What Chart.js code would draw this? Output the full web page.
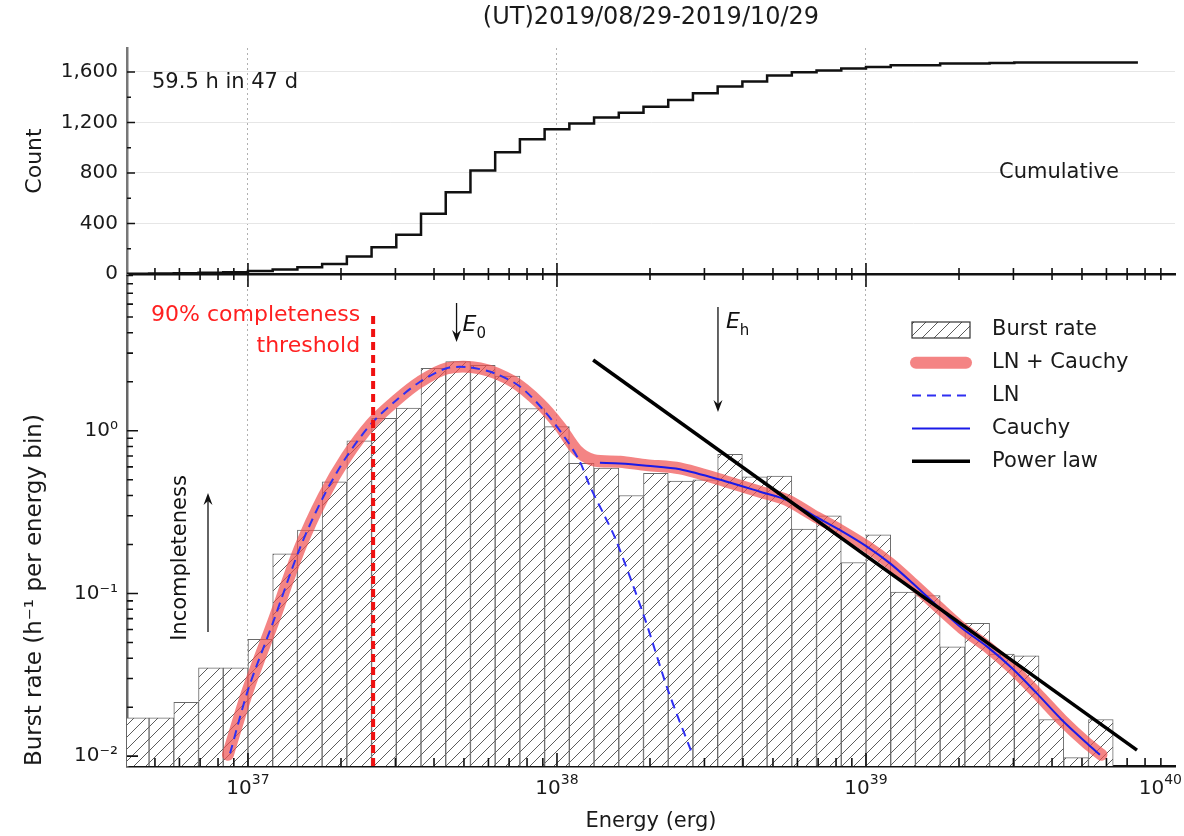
<!DOCTYPE html>
<html>
<head>
<meta charset="utf-8">
<script src="https://cdn.jsdelivr.net/npm/chart.js@4"></script>
<style>
  html, body { margin: 0; padding: 0; background: #fff; }
  #quadro { position: relative; width: 1184px; height: 836px; }
  canvas { position: absolute; left: 0; top: 0; }
</style>
</head>
<body>
<div id="quadro">
  <canvas id="graficoTaxa" width="1184" height="836"></canvas>
  <canvas id="graficoAcumulado" width="1184" height="836"></canvas>
</div>
<script>
const ctxTaxa = document.getElementById("graficoTaxa");
const ctxAcumulado = document.getElementById("graficoAcumulado");

const titulo = "(UT)2019/08/29-2019/10/29";
const rotuloExposicao = "59.5 h in 47 d";
const rotuloAcumulado = "Cumulative";

// bordas dos bins, em log10(E / erg)
const bordasBinsExp = [36.60, 36.68, 36.76, 36.84, 36.92, 37.00, 37.08, 37.16, 37.24, 37.32,
  37.40, 37.48, 37.56, 37.64, 37.72, 37.80, 37.88, 37.96, 38.04, 38.12,
  38.20, 38.28, 38.36, 38.44, 38.52, 38.60, 38.68, 38.76, 38.84, 38.92,
  39.00, 39.08, 39.16, 39.24, 39.32, 39.40, 39.48, 39.56, 39.64, 39.72,
  39.80, 39.88];

// taxa de surtos (h^-1 por bin)
const taxaSurtos = [0.0172, 0.0172, 0.0214, 0.0349, 0.0349, 0.0522, 0.175, 0.245, 0.486, 0.868,
  1.19, 1.38, 2.42, 2.66, 2.52, 2.17, 1.37, 1.06, 0.63, 0.59,
  0.40, 0.547, 0.49, 0.50, 0.716, 0.52, 0.527, 0.249, 0.30, 0.155,
  0.229, 0.102, 0.097, 0.047, 0.0655, 0.0424, 0.0414, 0.0168, 0.0098, 0.0168];

// contagem acumulada (painel de cima)
const contagemAcumulada = [2, 4, 6, 9, 13, 24, 36, 53, 80, 139,
  212, 310, 478, 648, 819, 965, 1068, 1146, 1192, 1240,
  1278, 1325, 1379, 1432, 1485, 1525, 1573, 1597, 1611, 1627,
  1640, 1653, 1653, 1667, 1667, 1672, 1675, 1675, 1676, 1676, 1676];

// curvas ajustadas
const lnExp = [36.942, 37.0, 37.08, 37.168, 37.244, 37.319, 37.40, 37.481, 37.557, 37.643, 37.718,
  37.799, 37.88, 37.961, 38.031, 38.074, 38.107, 38.155, 38.191, 38.282, 38.359, 38.437];
const lnTaxa = [0.0104, 0.0255, 0.0655, 0.19, 0.393, 0.692, 1.11, 1.545, 2.00, 2.42, 2.45,
  2.25, 1.87, 1.31, 0.877, 0.646, 0.454, 0.297, 0.213, 0.0721, 0.0255, 0.0104];

const lnCauchyExp = [36.935, 37.0, 37.08, 37.168, 37.244, 37.319, 37.40, 37.481, 37.557, 37.643,
  37.751, 37.859, 37.945, 38.010, 38.064, 38.117, 38.204, 38.290, 38.398, 38.550,
  38.657, 38.744, 38.828, 38.916, 39.003, 39.078, 39.152, 39.233, 39.311, 39.392,
  39.473, 39.553, 39.634, 39.715, 39.762];
const lnCauchyTaxa = [0.0102, 0.0255, 0.0655, 0.19, 0.393, 0.692, 1.11, 1.545, 2.00, 2.42,
  2.42, 2.0, 1.47, 1.06, 0.76, 0.66, 0.644, 0.615, 0.587, 0.486,
  0.422, 0.375, 0.303, 0.245, 0.194, 0.153, 0.115, 0.0828, 0.0611, 0.0471,
  0.0347, 0.0243, 0.0167, 0.0120, 0.0102];

const cauchyExp = [38.139, 38.204, 38.291, 38.398, 38.550, 38.657, 38.744, 38.828, 38.916, 39.003,
  39.078, 39.152, 39.233, 39.311, 39.392, 39.473, 39.553, 39.634, 39.715, 39.757];
const cauchyTaxa = [0.635, 0.63, 0.61, 0.58, 0.486, 0.422, 0.375, 0.303, 0.245, 0.194,
  0.153, 0.115, 0.0828, 0.0611, 0.0471, 0.0347, 0.0243, 0.0167, 0.0120, 0.0102];

const leiPotenciaExp = [38.117, 39.877];
const leiPotenciaTaxa = [2.72, 0.0109];

const limiarExp = 37.405;   // 90% completeness threshold
const limiarTopo = 5.3;
const e0Exp = 37.675;
const ehExp = 38.521;

// eixos
const energiaMin = 4.06e36;
const energiaMax = 1e40;
const taxaMin = 0.0087;
const taxaMax = 9.19;
const contagemMax = 1790;
const marcasContagem = [0, 200, 400, 600, 800, 1000, 1200, 1400, 1600];
const ticksContagem = [0, 400, 800, 1200, 1600];
const decadasTaxa = [-2, -1, 0];
const decadasEnergia = [37, 38, 39, 40];

Chart.defaults.font.family = '"DejaVu Sans", sans-serif';
Chart.defaults.font.size = 20;
Chart.defaults.color = "#1a1a1a";
Chart.defaults.elements.point.radius = 0;

const SOBRESCRITO = { "-": "⁻", "0": "⁰", "1": "¹", "2": "²", "3": "³", "4": "⁴", "5": "⁵", "6": "⁶", "7": "⁷", "8": "⁸", "9": "⁹" };
const potencia10 = (e) => "10" + String(e).split("").map((c) => SOBRESCRITO[c]).join("");
const expoente = (v) => Math.round(Math.log10(v));
const ehDecada = (v) => Math.abs(Math.log10(v) - Math.round(Math.log10(v))) < 1e-6;
const ehInteiro = (v) => {
  const e = Math.floor(Math.log10(v) + 1e-9);
  const s = v / Math.pow(10, e);
  return Math.abs(s - Math.round(s)) < 1e-6;
};
const pontos = (exps, vals) => exps.map((e, i) => ({ x: Math.pow(10, e), y: vals[i] }));

const barras = taxaSurtos.map((v, i) => ({
  x: Math.pow(10, (bordasBinsExp[i] + bordasBinsExp[i + 1]) / 2),
  y: v,
}));

const degraus = contagemAcumulada.map((c, i) => ({ x: Math.pow(10, bordasBinsExp[i]), y: c }));
degraus.push({
  x: Math.pow(10, bordasBinsExp[contagemAcumulada.length]),
  y: contagemAcumulada[contagemAcumulada.length - 1],
});

function hachura(canvas) {
  const c = document.createElement("canvas");
  c.width = 12;
  c.height = 12;
  const g = c.getContext("2d");
  g.fillStyle = "#fff";
  g.fillRect(0, 0, 12, 12);
  g.strokeStyle = "#4a4a4a";
  g.lineWidth = 0.9;
  g.beginPath();
  g.moveTo(-2, 14); g.lineTo(14, -2);
  g.moveTo(-2, 2); g.lineTo(2, -2);
  g.moveTo(10, 14); g.lineTo(14, 10);
  g.stroke();
  return canvas.getContext("2d").createPattern(c, "repeat");
}
const padrao = hachura(ctxTaxa);

// marcas dos eixos voltadas para dentro
const marcasInternas = {
  id: "marcasInternas",
  afterDatasetsDraw(chart, args, opts) {
    const { ctx, chartArea: a } = chart;
    const x = chart.scales.x;
    const y = chart.scales.y;
    ctx.save();
    ctx.strokeStyle = "#111";
    ctx.lineWidth = 1.6;
    ctx.beginPath();
    x.ticks.forEach((t) => {
      const px = x.getPixelForValue(t.value);
      if (px < a.left + 2 || px > a.right - 2 || !ehInteiro(t.value)) return;
      const maior = ehDecada(t.value);
      opts.x.forEach((m) => {
        const y0 = m.borda === "top" ? a.top : a.bottom;
        ctx.moveTo(px, y0);
        ctx.lineTo(px, y0 + m.dir * (maior ? m.maior : m.menor));
      });
    });
    y.ticks.forEach((t) => {
      const py = y.getPixelForValue(t.value);
      if (py < a.top + 1 || py > a.bottom - 1) return;
      const tipo = opts.tipoY(t.value);
      if (!tipo) return;
      ctx.moveTo(a.left, py);
      ctx.lineTo(a.left + (tipo === 2 ? opts.y.maior : opts.y.menor), py);
    });
    ctx.stroke();
    ctx.restore();
  },
};

// rótulos 10^n do eixo de energia, com expoente menor e elevado
const rotulosEnergia = {
  id: "rotulosEnergia",
  afterDraw(chart) {
    const { ctx, chartArea: a } = chart;
    const x = chart.scales.x;
    ctx.save();
    ctx.fillStyle = "#1a1a1a";
    ctx.textBaseline = "alphabetic";
    ctx.textAlign = "left";
    decadasEnergia.forEach((d) => {
      const px = x.getPixelForValue(Math.pow(10, d));
      ctx.font = '20px "DejaVu Sans"';
      const wBase = ctx.measureText("10").width;
      ctx.font = '14px "DejaVu Sans"';
      const wExp = ctx.measureText(String(d)).width;
      const w = wBase + wExp;
      const x0 = Math.min(px - w / 2, chart.width - 2 - w);
      ctx.font = '20px "DejaVu Sans"';
      ctx.fillText("10", x0, a.bottom + 28);
      ctx.font = '14px "DejaVu Sans"';
      ctx.fillText(String(d), x0 + wBase, a.bottom + 18);
    });
    ctx.restore();
  },
};

function seta(ctx, x, y1, y2) {
  const d = Math.sign(y2 - y1);
  ctx.beginPath();
  ctx.moveTo(x, y1);
  ctx.lineTo(x, y2 - d * 8);
  ctx.stroke();
  ctx.beginPath();
  ctx.moveTo(x, y2);
  ctx.lineTo(x - 4.5, y2 - d * 12);
  ctx.lineTo(x, y2 - d * 8);
  ctx.lineTo(x + 4.5, y2 - d * 12);
  ctx.closePath();
  ctx.fill();
}

function rotuloE(ctx, x, y, sub) {
  ctx.textAlign = "left";
  ctx.textBaseline = "middle";
  ctx.font = 'italic 22px "DejaVu Sans"';
  ctx.fillText("E", x, y);
  const w = ctx.measureText("E").width;
  ctx.font = '15px "DejaVu Sans"';
  ctx.fillText(sub, x + w, y + 9);
}

const textosTopo = {
  id: "textosTopo",
  afterDraw(chart) {
    const { ctx, chartArea: a } = chart;
    ctx.save();
    ctx.fillStyle = "#1a1a1a";
    ctx.textBaseline = "middle";
    ctx.textAlign = "center";
    ctx.font = '24px "DejaVu Sans"';
    ctx.fillText(titulo, (a.left + a.right) / 2, 18);
    ctx.font = '21px "DejaVu Sans"';
    ctx.textAlign = "left";
    ctx.fillText(rotuloExposicao, 152, 83);
    ctx.fillText(rotuloAcumulado, 999, 173);
    ctx.restore();
  },
};

const anotacoes = {
  id: "anotacoes",
  afterDraw(chart) {
    const { ctx } = chart;
    const x = chart.scales.x;
    ctx.save();
    // limiar
    const xl = x.getPixelForValue(Math.pow(10, limiarExp));
    ctx.fillStyle = "#ff2020";
    ctx.font = '22px "DejaVu Sans"';
    ctx.textAlign = "right";
    ctx.textBaseline = "middle";
    ctx.fillText("90% completeness", xl - 13, 315);
    ctx.fillText("threshold", xl - 13, 346);
    // setas E0 e Eh
    ctx.fillStyle = "#111";
    ctx.strokeStyle = "#111";
    ctx.lineWidth = 1.3;
    const x0 = x.getPixelForValue(Math.pow(10, e0Exp));
    seta(ctx, x0, 303, 342);
    rotuloE(ctx, x0 + 6, 325, "0");
    const xh = x.getPixelForValue(Math.pow(10, ehExp));
    seta(ctx, xh, 307, 412);
    rotuloE(ctx, xh + 8, 322, "h");
    // incompleteness
    seta(ctx, 208, 632, 493);
    ctx.save();
    ctx.translate(181, 558);
    ctx.rotate(-Math.PI / 2);
    ctx.font = '21px "DejaVu Sans"';
    ctx.textAlign = "center";
    ctx.fillText("Incompleteness", 0, 0);
    ctx.restore();
    // legenda
    const linhas = chart.data.datasets.filter((d) => d.legenda);
    linhas.forEach((d, i) => {
      const yy = 330 + i * 32.8;
      if (d.type === "bar") {
        ctx.fillStyle = d.backgroundColor;
        ctx.fillRect(912, yy - 8, 58, 16);
        ctx.strokeStyle = "#333";
        ctx.lineWidth = 1.2;
        ctx.strokeRect(912, yy - 8, 58, 16);
      } else {
        ctx.strokeStyle = d.borderColor;
        ctx.lineWidth = d.borderWidth;
        ctx.lineCap = d.borderCapStyle || "butt";
        ctx.setLineDash(d.borderDash || []);
        ctx.beginPath();
        ctx.moveTo(d.borderWidth > 5 ? 916 : 912, yy);
        ctx.lineTo(d.borderWidth > 5 ? 966 : 970, yy);
        ctx.stroke();
        ctx.setLineDash([]);
        ctx.lineCap = "butt";
      }
      ctx.fillStyle = "#1a1a1a";
      ctx.font = '21px "DejaVu Sans"';
      ctx.textAlign = "left";
      ctx.fillText(d.label, 992, yy);
    });
    ctx.restore();
  },
};

const corGradeEnergia = (c) =>
  c.tick && ehDecada(c.tick.value) && c.tick.value < energiaMax * 0.99 ? "#b0b0b0" : "rgba(0,0,0,0)";

new Chart(ctxTaxa, {
  type: "line",
  data: {
    datasets: [
      {
        type: "bar",
        label: "Burst rate",
        data: barras,
        backgroundColor: padrao,
        borderColor: "#6a6a6a",
        borderWidth: 1,
        barThickness: "flex",
        barPercentage: 1,
        categoryPercentage: 1,
        order: 6,
        legenda: true,
      },
      {
        label: "LN + Cauchy",
        data: pontos(lnCauchyExp, lnCauchyTaxa),
        borderColor: "rgba(240, 80, 80, 0.7)",
        borderWidth: 12,
        borderCapStyle: "round",
        tension: 0.3,
        order: 5,
        legenda: true,
      },
      {
        label: "LN",
        data: pontos(lnExp, lnTaxa),
        borderColor: "#2f2ff2",
        borderWidth: 2,
        borderDash: [9, 6],
        tension: 0.3,
        order: 4,
        legenda: true,
      },
      {
        label: "Cauchy",
        data: pontos(cauchyExp, cauchyTaxa),
        borderColor: "#1a1ae8",
        borderWidth: 2,
        tension: 0.3,
        order: 3,
        legenda: true,
      },
      {
        label: "Power law",
        data: pontos(leiPotenciaExp, leiPotenciaTaxa),
        borderColor: "#000",
        borderWidth: 3.5,
        order: 2,
        legenda: true,
      },
      {
        label: "90% completeness threshold",
        data: [
          { x: Math.pow(10, limiarExp), y: taxaMin },
          { x: Math.pow(10, limiarExp), y: limiarTopo },
        ],
        borderColor: "#f01010",
        borderWidth: 4,
        borderDash: [8, 5],
        order: 1,
      },
    ],
  },
  options: {
    responsive: false,
    animation: false,
    layout: { padding: { top: 274, right: 9, bottom: 0, left: 0 } },
    plugins: {
      legend: { display: false },
      tooltip: { enabled: false },
      marcasInternas: {
        x: [
          { borda: "top", dir: 1, maior: 13, menor: 6 },
          { borda: "bottom", dir: -1, maior: 13, menor: 8 },
        ],
        y: { maior: 11, menor: 6 },
        tipoY: (v) => (ehDecada(v) ? 2 : ehInteiro(v) ? 1 : 0),
      },
    },
    scales: {
      x: {
        type: "logarithmic",
        min: energiaMin,
        max: energiaMax,
        offset: false,
        afterFit: (s) => { s.height = 70; },
        grid: { offset: false, drawTicks: false, color: corGradeEnergia, lineWidth: 1 },
        border: { color: "#111", width: 2.5, dash: [2, 3] },
        ticks: { display: false, autoSkip: false },
        title: { display: true, text: "Energy (erg)", font: { size: 21 }, padding: { top: 0, bottom: 2 } },
      },
      y: {
        type: "logarithmic",
        min: taxaMin,
        max: taxaMax,
        afterFit: (s) => { s.width = 127; },
        grid: { display: false, drawTicks: false },
        border: { color: "#666", width: 2.5 },
        ticks: {
          autoSkip: false,
          padding: 9,
          font: { size: 20 },
          callback: (v) => (ehDecada(v) && decadasTaxa.includes(expoente(v)) ? potencia10(expoente(v)) : ""),
        },
        title: {
          display: true,
          text: "Burst rate (h⁻¹ per energy bin)",
          align: "start",
          font: { size: 23 },
          padding: { top: 21, bottom: 0 },
        },
      },
    },
  },
  plugins: [marcasInternas, rotulosEnergia, anotacoes],
});

new Chart(ctxAcumulado, {
  type: "line",
  data: {
    datasets: [
      {
        label: "Cumulative",
        data: degraus,
        stepped: "before",
        borderColor: "#111",
        borderWidth: 2.5,
      },
    ],
  },
  options: {
    responsive: false,
    animation: false,
    layout: { padding: { top: 48, right: 9, bottom: 552, left: 0 } },
    plugins: {
      legend: { display: false },
      tooltip: { enabled: false },
      marcasInternas: {
        x: [{ borda: "bottom", dir: -1, maior: 11, menor: 6 }],
        y: { maior: 8, menor: 4 },
        tipoY: (v) => (v % 400 === 0 ? 2 : v % 200 === 0 ? 1 : 0),
      },
    },
    scales: {
      x: {
        type: "logarithmic",
        min: energiaMin,
        max: energiaMax,
        offset: false,
        afterFit: (s) => { s.height = 10; },
        grid: { offset: false, drawTicks: false, color: corGradeEnergia, lineWidth: 1 },
        border: { color: "#111", width: 2.5, dash: [2, 3] },
        ticks: { display: false, autoSkip: false },
      },
      y: {
        type: "linear",
        min: 0,
        max: contagemMax,
        afterFit: (s) => { s.width = 127; },
        afterBuildTicks: (s) => { s.ticks = marcasContagem.map((v) => ({ value: v })); },
        grid: {
          drawTicks: false,
          color: (c) => (c.tick && c.tick.value > 0 && c.tick.value % 400 === 0 ? "#e6e6e6" : "rgba(0,0,0,0)"),
        },
        border: { color: "#777", width: 2.5 },
        ticks: {
          autoSkip: false,
          padding: 9,
          font: { size: 20 },
          callback: (v) => (ticksContagem.includes(v) ? v.toLocaleString("en-US") : ""),
        },
        title: { display: true, text: "Count", font: { size: 22 }, padding: { top: 22, bottom: 0 } },
      },
    },
  },
  plugins: [marcasInternas, textosTopo],
});
</script>
</body>
</html>
